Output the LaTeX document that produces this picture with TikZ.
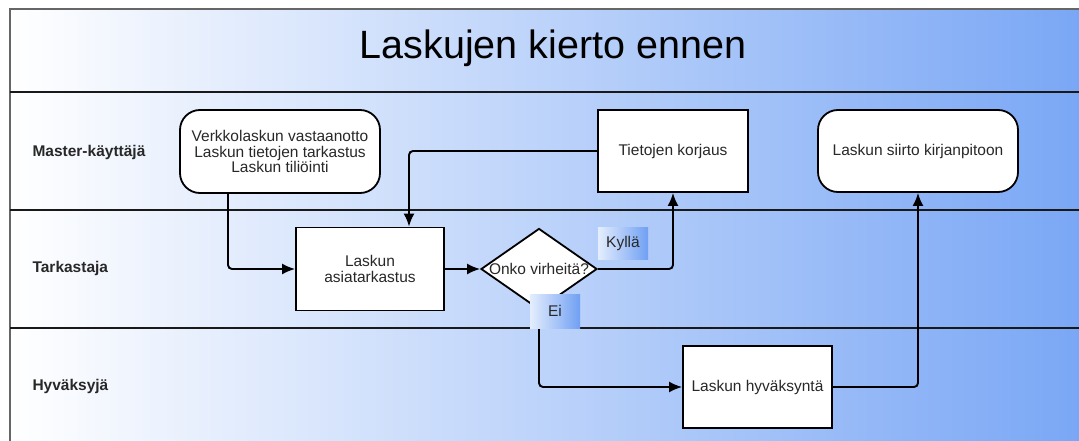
\documentclass[tikz,border=0pt]{standalone}
\usepackage{xcolor}
\usepackage{fontspec}
\setmainfont{Liberation Sans}
\usetikzlibrary{arrows.meta,shapes.geometric}

\definecolor{laneblue}{RGB}{122,167,245}
\definecolor{tagblue}{RGB}{112,160,243}
\definecolor{txtgray}{RGB}{40,40,40}

\begin{document}
\begin{tikzpicture}
		[x=1pt, y=-1pt,
			block/.style ={rectangle, draw=black, line width=1.8pt, fill=white, text=txtgray, align=center, font=\fontsize{15.5}{15.5}\selectfont, inner sep=2pt},
 rblock/.style ={block, rounded corners=20pt},
 decide/.style ={diamond, draw=black, line width=1.8pt, fill=white, inner sep=0pt},
 lane/.style ={anchor=west, font=\bfseries\fontsize{15.5}{18}\selectfont, text=txtgray},
 tag/.style ={left color=laneblue!20, right color=tagblue, text=txtgray, font=\fontsize{15.5}{18}\selectfont, inner sep=0pt},
 line/.style ={draw, line width=1.9pt, -{Latex[length=13pt,width=11pt]}, rounded corners=4pt},
 sep/.style ={draw=black!90, line width=1.8pt}]
		\useasboundingbox (0,0) rectangle (1079,441);
%		background of the pool
		\shade[left color=white, right color=laneblue] (10,9) rectangle (1079,441);
		\draw[black!60, line width=1.5pt] (1079,9) -- (10,9) -- (10,441);
		\draw[sep] (10,92) -- (1079,92);
		\draw[sep] (10,210) -- (1079,210);
		\draw[sep] (10,328) -- (1079,328);
%		title and lanes
		\node (title) at (553,48) {\fontsize{39.5}{44}\selectfont Laskujen kierto ennen};
		\node[lane] (master) at (29,152) {Master-käyttäjä};
		\node[lane] (tark) at (29,268) {Tarkastaja};
		\node[lane] (hyv) at (29,386) {Hyväksyjä};
%		steps
		\node[rblock, minimum width=200pt, minimum height=83pt] (vast) at (280,151.5) {Verkkolaskun vastaanotto\\Laskun tietojen tarkastus\\Laskun tiliöinti};
		\node[block, minimum width=148pt, minimum height=83pt] (asia) at (370,269) {Laskun\\asiatarkastus};
		\node[decide, minimum width=116pt, minimum height=81pt,
			label={[font=\fontsize{15.5}{18}\selectfont, text=txtgray]center:Onko virheitä?}] (virhe) at (539,269) {};
		\node[block, minimum width=150pt, minimum height=82pt] (korj) at (673,151) {Tietojen korjaus};
		\node[rblock, minimum width=200pt, minimum height=82pt] (siirto) at (918,151) {Laskun siirto kirjanpitoon};
		\node[block, minimum width=149pt, minimum height=82pt] (hyvak) at (757.5,387) {Laskun hyväksyntä};
%		flow
		\draw[line] ([xshift=-52pt]vast.south) |- (asia.west);
		\draw[line] (korj.west) -| ([xshift=39pt]asia.north);
		\draw[line] (asia.east) -- (virhe.west);
		\draw[line] (virhe.east) -| (korj.south);
		\draw[line] (virhe.south) |- (hyvak.west);
		\draw[line] (hyvak.east) -| (siirto.south);
%		answers
		\node[tag, minimum width=50pt, minimum height=32pt] (kylla) at (623,243.5) {Kyllä};
		\node[tag, minimum width=50pt, minimum height=34pt] (ei) at (555,311) {Ei};
	\end{tikzpicture}
\end{document}
